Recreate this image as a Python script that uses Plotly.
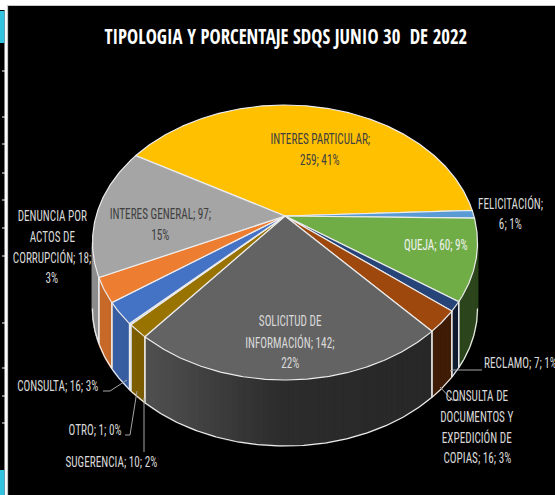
import numpy as np
import plotly.graph_objects as go

title = "TIPOLOGIA Y PORCENTAJE SDQS JUNIO 30  DE 2022"
categories = ["INTERES PARTICULAR", "FELICITACIÓN", "QUEJA", "RECLAMO",
              "CONSULTA DE DOCUMENTOS Y EXPEDICIÓN DE COPIAS", "SOLICITUD DE INFORMACIÓN",
              "SUGERENCIA", "OTRO", "CONSULTA", "DENUNCIA POR ACTOS DE CORRUPCIÓN", "INTERES GENERAL"]
values = [259, 6, 60, 7, 16, 142, 10, 1, 16, 18, 97]
percents = [41, 1, 9, 1, 3, 22, 2, 0, 3, 3, 15]
colors = ["#FFC000", "#5B9BD5", "#70AD47", "#264478", "#9E480E", "#636363",
          "#997300", "#A9C4E4", "#4472C4", "#ED7D31", "#A5A5A5"]

# 3D projection of the pie
CX, Y0, R, S, K, DEPTH = 285.0, 216.0, 188.9, 132.4, 0.1927, 66.0
START_DEG = 150.0  # math angle, running clockwise


def project(deg):
    t = np.radians(deg)
    u, v = np.cos(t), np.sin(t)
    w = 1 + K * v
    return CX + R * u / w, Y0 - S * v / w


def rgb(hex_color, m):
    c = [int(hex_color[i:i + 2], 16) for i in (1, 3, 5)]
    return "rgb(%d,%d,%d)" % tuple(min(255, int(x * m)) for x in c)


def shade(x):
    return float(np.interp(x, [95, 150, 280, 440, 480], [0.85, 0.8, 0.45, 0.4, 0.4]))


fig = go.Figure()
EDGE = "#ececec"
total = sum(values)
bounds = START_DEG - np.cumsum([0] + values) / total * 360.0
TANGENT = -np.degrees(np.arcsin(K))

# walls
wall_lines = []
for i, col in enumerate(colors):
    a0, a1 = bounds[i], bounds[i + 1]
    vis_hi, vis_lo = TANGENT, -180 - TANGENT
    for shift in (0, 360, -360):
        hi = min(a0 + shift, vis_hi)
        lo = max(a1 + shift, vis_lo)
        if hi <= lo:
            continue
        n = max(1, int((hi - lo) / 1.5))
        edges = np.linspace(hi, lo, n + 1)
        for e0, e1 in zip(edges[:-1], edges[1:]):
            ang = np.linspace(e0, e1, 4)
            x, y = project(ang)
            px = np.r_[x, x[::-1]]
            py = np.r_[y, (y + DEPTH)[::-1]]
            c = rgb(col, shade(x.mean()))
            fig.add_trace(go.Scatter(x=np.r_[px, px[0]], y=np.r_[py, py[0]], mode="lines", fill="toself",
                                     fillcolor=c, line=dict(color=c, width=1.6), hoverinfo="skip"))
        ang = np.linspace(hi, lo, n * 3 + 1)
        x, y = project(ang)
        wall_lines.append((x, y + DEPTH))
        for e, real in ((hi, a0 + shift), (lo, a1 + shift)):
            if abs(e - real) < 1e-9:
                ex, ey = project(e)
                wall_lines.append((np.array([ex, ex]), np.array([ey, ey + DEPTH])))

for x, y in wall_lines:
    fig.add_trace(go.Scatter(x=x, y=y, mode="lines", line=dict(color=EDGE, width=1.2), hoverinfo="skip"))

# top faces
for i, col in enumerate(colors):
    ang = np.linspace(bounds[i], bounds[i + 1], max(3, int((bounds[i] - bounds[i + 1]) * 2)))
    x, y = project(ang)
    fig.add_trace(go.Scatter(x=np.r_[CX, x, CX], y=np.r_[Y0, y, Y0], mode="lines", fill="toself",
                             fillcolor=col, line=dict(color=EDGE, width=1.2), hoverinfo="skip"))

# label layout: (lines, centre x, first-line y, line gap, colour)
LIGHT, DARK = "#d9d9d9", "#404040"
FONT = "Roboto Condensed, Open Sans, sans-serif"
def lab(i):
    return f"{values[i]}; {percents[i]}%"
label_specs = [
    ([categories[0] + ";", lab(0)], 320, 139, 20.5, DARK),
    ([categories[1] + ";", lab(1)], 510, 203, 21, LIGHT),
    ([f"{categories[2]}; {lab(2)}"], 436, 245, 20, "#f2f2f2"),
    ([f"{categories[10]}; {values[10]};", f"{percents[10]}%"], 160, 214, 20.5, DARK),
    (["DENUNCIA POR", "ACTOS DE", f"CORRUPCIÓN; {values[9]};", f"{percents[9]}%"], 52, 216, 20.5, LIGHT),
    (["SOLICITUD DE", f"INFORMACIÓN; {values[5]};", f"{percents[5]}%"], 290, 321, 21, LIGHT),
    (["CONSULTA DE", "DOCUMENTOS Y", "EXPEDICIÓN DE", f"COPIAS; {lab(4)}"], 477, 396, 20.5, LIGHT),
    ([f"{categories[8]}; {lab(8)}"], 58, 386, 20, LIGHT),
    ([f"{categories[7]}; {lab(7)}"], 95, 430, 20, LIGHT),
    ([f"{categories[6]}; {lab(6)}"], 111, 462, 20, LIGHT),
    ([f"{categories[3]}; {lab(3)}"], 520, 363, 20, LIGHT),
]
annotations = []
for lines, cx, y0, gap, color in label_specs:
    for j, line in enumerate(lines):
        annotations.append(dict(x=cx, y=y0 + j * gap, text=line, showarrow=False, xref="x", yref="y",
                                xanchor="center", yanchor="middle",
                                font=dict(family=FONT, size=14, color=color)))
annotations.append(dict(x=286, y=36, text=title, showarrow=False, xanchor="center", yanchor="middle",
                        font=dict(family="Open Sans Condensed, Roboto Condensed, sans-serif", size=21,
                                  weight=700, color="#ffffff")))

# frame, side strip, leader lines
shapes = [
    dict(type="rect", x0=8, x1=556, y0=6, y1=496, fillcolor="#000000", line=dict(width=0), layer="below"),
    dict(type="line", x0=7.5, x1=7.5, y0=5, y1=495, line=dict(color="#c8c8c8", width=1.2), layer="below"),
    dict(type="line", x0=7.5, x1=555, y0=5.5, y1=5.5, line=dict(color="#c8c8c8", width=1.2), layer="below"),
    dict(type="rect", x0=0, x1=4.5, y0=10, y1=495, fillcolor="#000000", line=dict(width=0), layer="below"),
    dict(type="rect", x0=0, x1=4.5, y0=11, y1=43, fillcolor="#35c4e0", line=dict(width=0), layer="below"),
    dict(type="rect", x0=0, x1=4.5, y0=470, y1=495, fillcolor="#35c4e0", line=dict(width=0), layer="below"),
]
for ty in [71, 117, 144, 173, 200, 228, 256, 323, 368, 396, 423]:
    shapes.append(dict(type="line", x0=2, x1=5, y0=ty, y1=ty, line=dict(color="#ffffff", width=1), layer="below"))
leaders = [
    ([103, 110, 127], [391, 391, 380]),
    ([125, 130, 137], [435, 435, 391]),
    ([144, 144], [452, 398]),
    ([482, 453, 450], [370, 370, 371]),
    ([440, 452, 459], [387, 400, 400]),
]
for lx, ly in leaders:
    fig.add_trace(go.Scatter(x=lx, y=ly, mode="lines", line=dict(color="#a6a6a6", width=1), hoverinfo="skip"))

fig.update_layout(
    width=555, height=495, margin=dict(l=0, r=0, t=0, b=0), autosize=False,
    paper_bgcolor="#ffffff", plot_bgcolor="#ffffff", showlegend=False,
    xaxis=dict(range=[0, 555], visible=False, fixedrange=True),
    yaxis=dict(range=[495, 0], visible=False, fixedrange=True),
    shapes=shapes, annotations=annotations,
)
squeeze_js = """
document.body.style.margin = '0';
document.querySelectorAll('.annotation-text').forEach(function (t) {
  var r = t.textContent.indexOf('TIPOLOGIA') === 0 ? 0.89 : 0.8;
  t.setAttribute('textLength', t.getComputedTextLength() * r);
  t.setAttribute('lengthAdjust', 'spacingAndGlyphs');
});
"""
fig.write_html("out.html", post_script=squeeze_js, config={"displayModeBar": False})
